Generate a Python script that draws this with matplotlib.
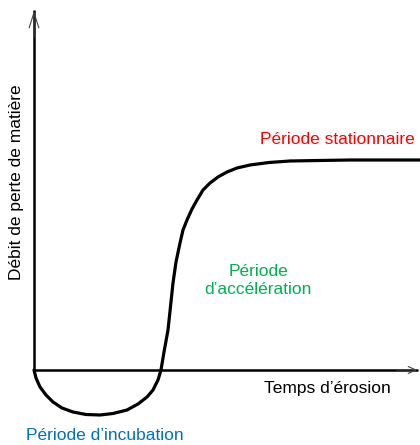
"""
Schematic: erosion rate vs erosion time (incubation, acceleration, steady state).
"""

import matplotlib
matplotlib.use("Agg")
import matplotlib.pyplot as plt

# curve (time, rate), origin at the axes crossing
time_vals = [0, 2, 6, 12, 19, 28, 39, 52, 66, 79, 93, 104, 113, 119, 124,
             127, 130, 134, 139, 142, 146, 149, 153, 158, 163, 169, 176,
             184, 193, 203, 216, 235, 256, 285, 316, 350, 386]
rate_vals = [0, -8, -17, -25, -32, -38, -42, -44.5, -45, -43.5, -40, -34,
             -27, -20, -10, 0, 18, 40, 87, 108, 127, 140, 150, 161, 170,
             180, 187, 193, 198, 202, 205, 207.5, 209, 209.5, 210, 210, 210]

x_label = "Temps d\u2019érosion"
y_label = "Débit de perte de matière"
phase_labels = ["Période d\u2019incubation", "Période\nd\u2019accélération",
                "Période stationnaire"]
phase_colors = ["#0070C0", "#00B050", "#FF0000"]

plt.rcParams["font.family"] = ["Liberation Sans", "DejaVu Sans"]

fig = plt.figure(figsize=(4.2, 4.45), dpi=100)
ax = fig.add_axes([0, 0, 1, 1])
ax.set_xlim(-34, 386)
ax.set_ylim(-75, 370)
ax.axis("off")

# axes with open arrow heads
ax.plot([0, 0], [0, 360], color="black", lw=1.8, solid_capstyle="butt")
ax.plot([0, 384], [0, 0], color="black", lw=1.8, solid_capstyle="butt")
ax.annotate("", xy=(0, 362), xytext=(0, 330),
            arrowprops=dict(arrowstyle="->,head_length=1.1,head_width=0.35",
                            color="#444444", lw=0.8))
ax.annotate("", xy=(386, 0), xytext=(360, 0),
            arrowprops=dict(arrowstyle="->,head_length=0.55,head_width=0.25",
                            color="#444444", lw=0.8))

ax.plot(time_vals, rate_vals, color="black", lw=2.3,
        solid_capstyle="round", solid_joinstyle="round")

fs = 12.5
ax.text(-17, 188, y_label, rotation=90, ha="center", va="center",
        fontsize=fs)
ax.text(293, -19, x_label, ha="center", va="center", fontsize=fs)
ax.text(71, -66, phase_labels[0], ha="center", va="center",
        fontsize=fs, color=phase_colors[0])
ax.text(224, 90, phase_labels[1], ha="center", va="center",
        fontsize=fs, color=phase_colors[1], linespacing=1.25)
ax.text(303, 230, phase_labels[2], ha="center", va="center",
        fontsize=fs, color=phase_colors[2])

fig.savefig("out.png", dpi=100, facecolor="white")
